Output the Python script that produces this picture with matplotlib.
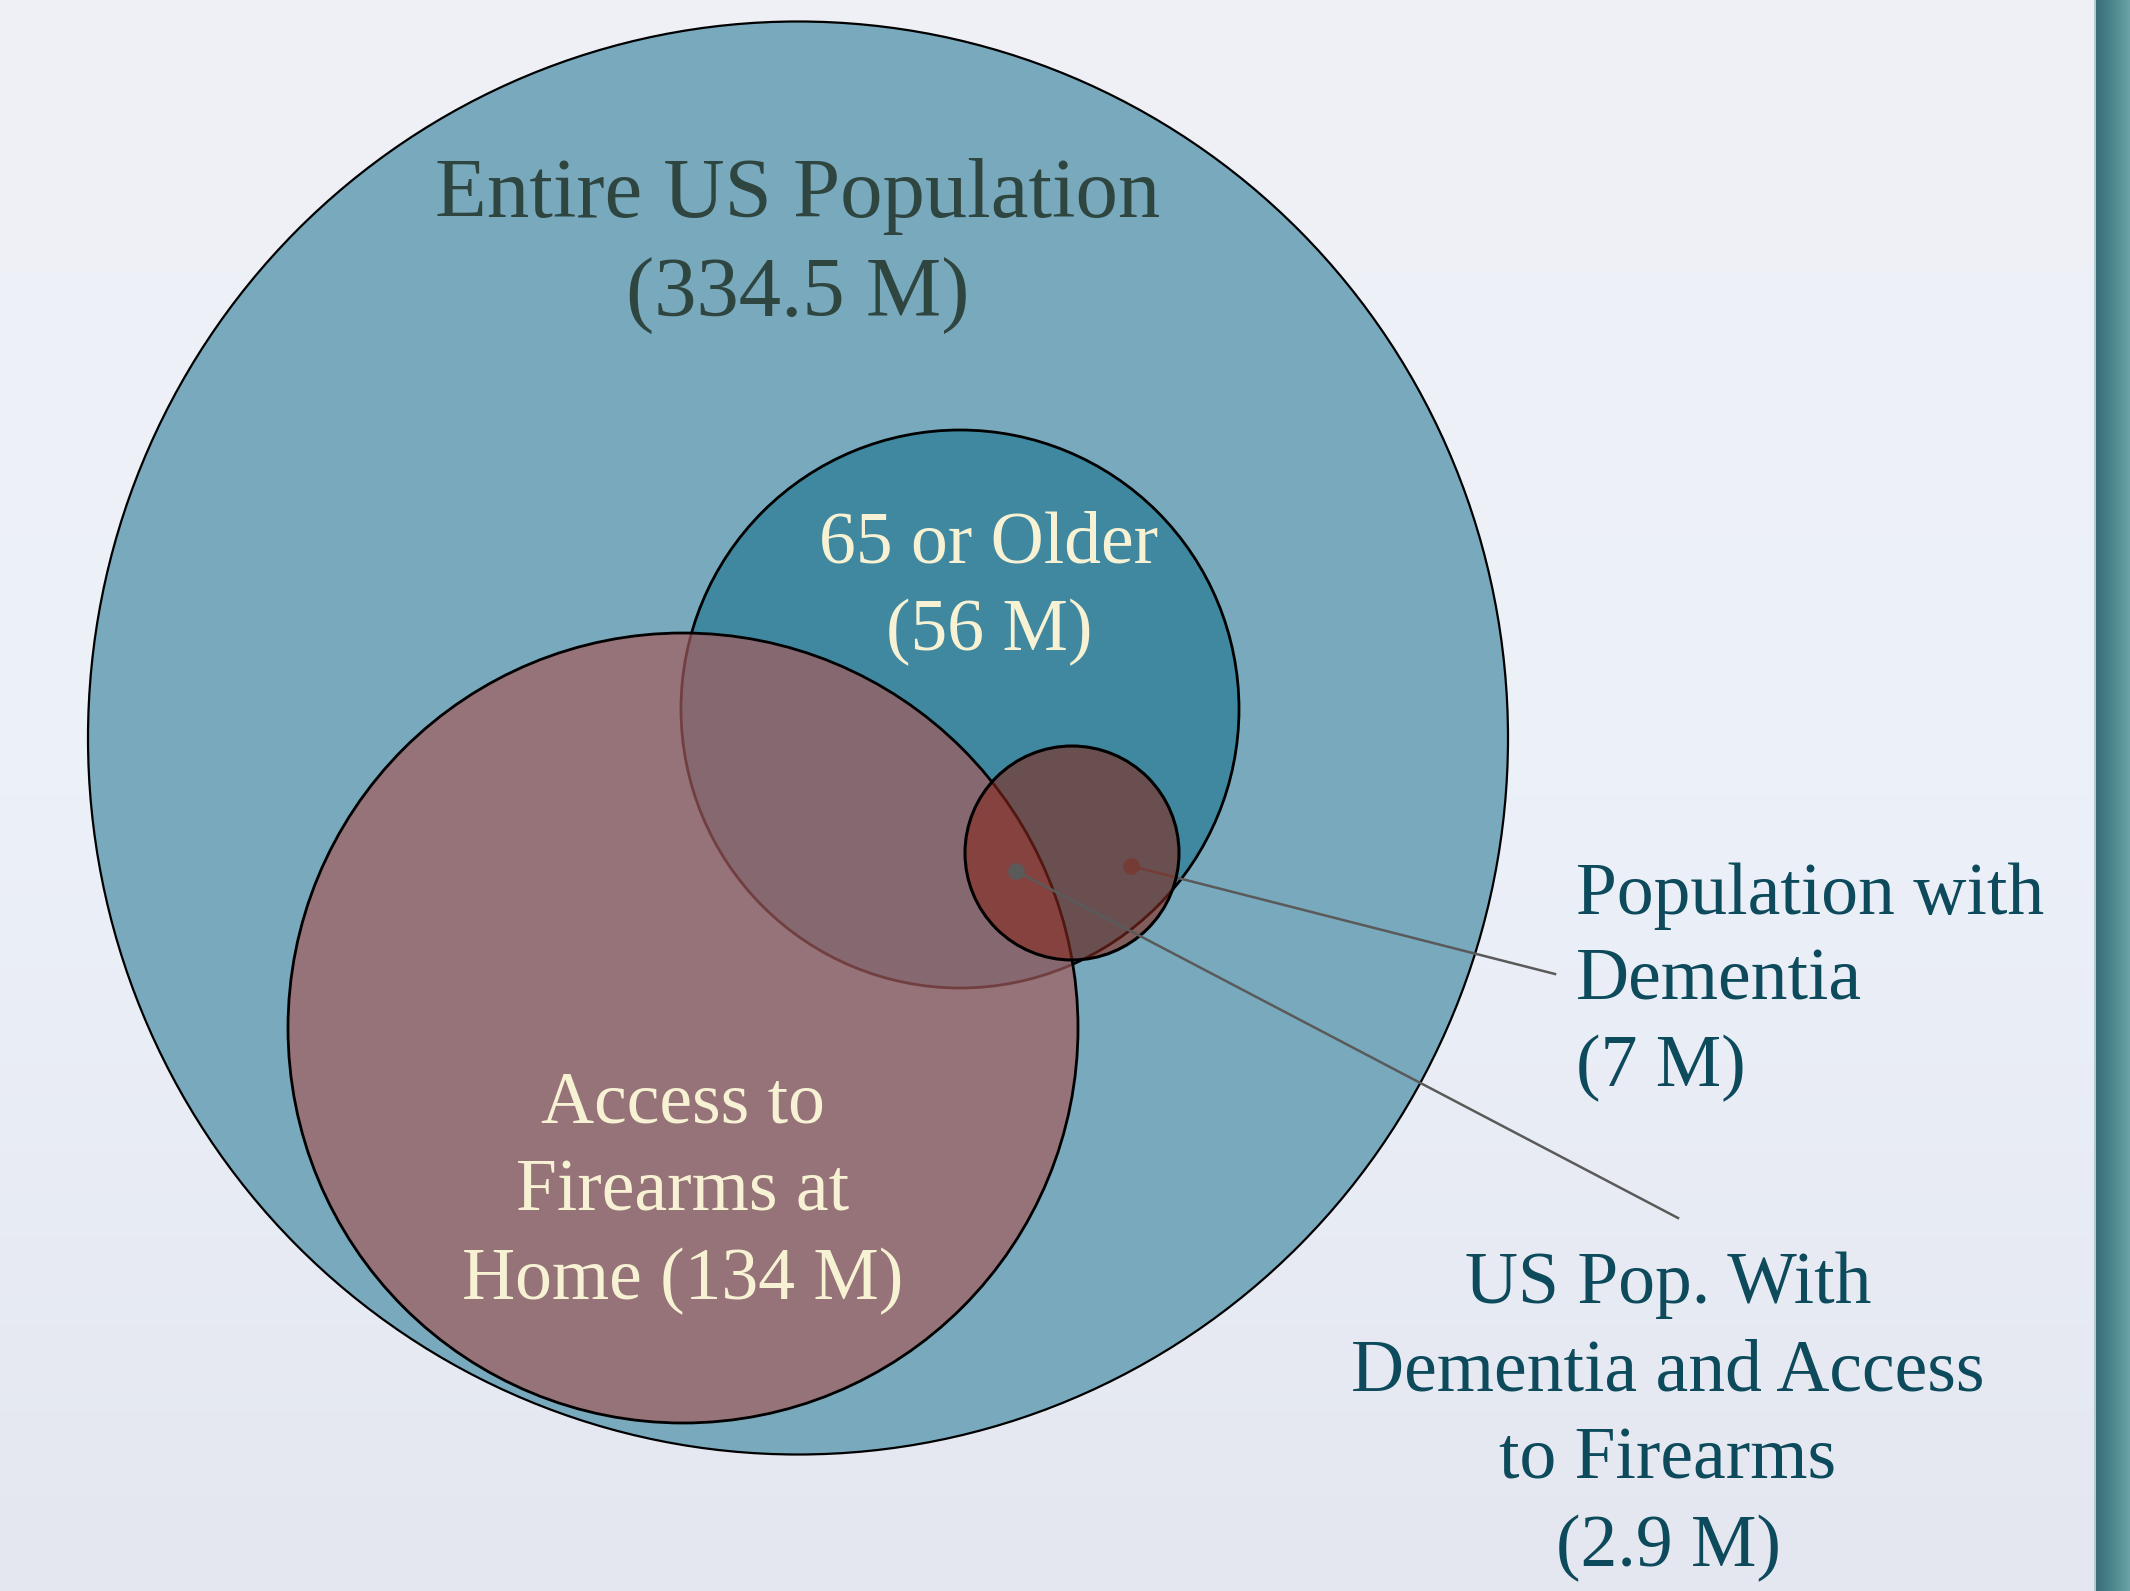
import numpy as np
import matplotlib
matplotlib.use("Agg")
from matplotlib import pyplot as plt
from matplotlib.patches import Ellipse
from matplotlib.colors import LinearSegmentedColormap

# groups of the nested diagram (millions of people)
groups = ["Entire US Population", "65 or Older", "Access to Firearms at Home",
          "Population with Dementia"]
population_m = [334.5, 56, 134, 7]
overlap_label = "US Pop. With Dementia and Access to Firearms"
overlap_m = 2.9

# layout of the shapes in pixel space: centre x, centre y, width, height
circle_x = [798, 960, 683, 1072]
circle_y = [738, 709, 1028, 853]
circle_w = [1420, 558, 790, 214]
circle_h = [1433, 558, 790, 214]
face_colors = [(0.471, 0.663, 0.741, 1.0),
               (0.247, 0.533, 0.627, 1.0),
               (0.639, 0.357, 0.361, 0.70),
               (0.529, 0.161, 0.114, 0.60)]
edge_widths = [1.6, 2.0, 2.0, 2.2]

W, H = 2130, 1591
fig = plt.figure(figsize=(W / 100, H / 100), dpi=100)
ax = fig.add_axes([0, 0, 1, 1])
ax.set_xlim(0, W)
ax.set_ylim(H, 0)
ax.set_aspect("equal")
ax.axis("off")

# background gradient
bg = LinearSegmentedColormap.from_list("bg", ["#eff0f5", "#ecf0f8", "#e4e7f0"])
ax.imshow(np.linspace(0, 1, 256).reshape(-1, 1), cmap=bg, aspect="auto",
          extent=[0, W, H, 0], zorder=0)

# teal bar on the right edge
bar = LinearSegmentedColormap.from_list("bar", ["#3a6f78", "#4d878e", "#6aa2a8"])
grad = np.tile(np.linspace(0, 1, 64), (32, 1))
ax.imshow(grad, cmap=bar, aspect="auto", extent=[2096, W, H, 0], zorder=0.5)
ax.plot([2095, 2095], [0, H], color="#a9c4cb", lw=1.2, zorder=0.6)

for i in range(4):
    z = [1, 2, 3, 5][i]
    ax.add_patch(Ellipse((circle_x[i], circle_y[i]), circle_w[i], circle_h[i],
                         facecolor=face_colors[i], edgecolor="black",
                         lw=edge_widths[i], zorder=z))

# leader lines: the dementia one sits beneath the dementia circle
dem_dot = (1131, 866)
dem_end = (1555, 974)
ov_dot = (1016, 871)
ov_end = (1678, 1218)
ax.plot([dem_dot[0], dem_end[0]], [dem_dot[1], dem_end[1]], color="#5a5a5a", lw=1.8, zorder=4)
ax.plot(*dem_dot, "o", color="#5a5a5a", ms=11, zorder=4)
ax.plot([ov_dot[0], ov_end[0]], [ov_dot[1], ov_end[1]], color="#5a5a5a", lw=1.8, zorder=6)
ax.plot(*ov_dot, "o", color="#5a5a5a", ms=11, zorder=6)

serif = ["Liberation Serif", "DejaVu Serif"]
cream = "#f7f2d4"
teal = "#0c4a5c"

ax.text(798, 246, f"{groups[0]}\n({population_m[0]} M)", ha="center", va="center",
        fontsize=61, family=serif, color="#2f4540", linespacing=1.36, zorder=7)
ax.text(989, 589, f"{groups[1]}\n({population_m[1]} M)", ha="center", va="center",
        fontsize=53, family=serif, color=cream, linespacing=1.39, zorder=7)
ax.text(683, 1193, f"Access to\nFirearms at\nHome ({population_m[2]} M)", ha="center",
        va="center", fontsize=53, family=serif, color=cream, linespacing=1.4, zorder=7)
ax.text(1576, 982, f"Population with\nDementia\n({population_m[3]} M)", ha="left",
        va="center", fontsize=53, family=serif, color=teal, linespacing=1.36, zorder=7)
ax.text(1668, 1417, f"US Pop. With\nDementia and Access\nto Firearms\n({overlap_m} M)",
        ha="center", va="center", fontsize=53, family=serif, color=teal,
        linespacing=1.39, zorder=7)

fig.savefig("out.png", dpi=100)
